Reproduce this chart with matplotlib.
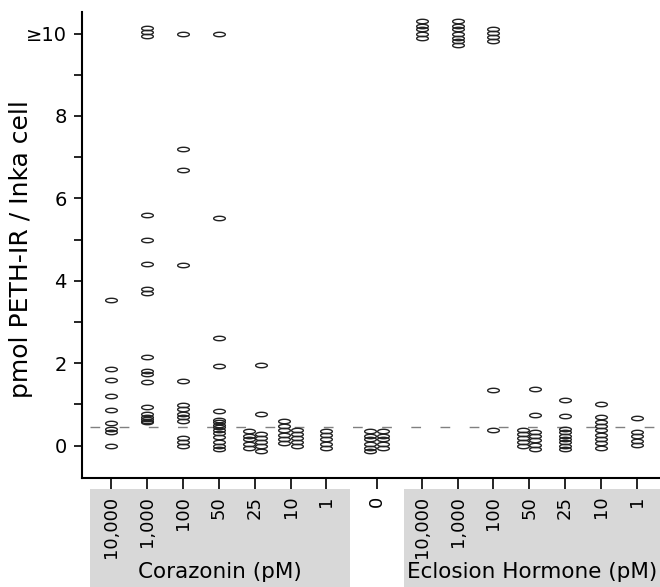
# =========================
# 1. Import Libraries
# =========================
import numpy as np
import matplotlib
matplotlib.use("Agg")
import matplotlib.pyplot as plt
from matplotlib.path import Path
from matplotlib.patches import Rectangle
from matplotlib.transforms import blended_transform_factory

# =========================
# 2. Data (pmol PETH-IR per Inka cell)
# =========================
conc_labels = ['10,000', '1,000', '100', '50', '25', '10', '1']
ctrl_label = '0'

# Corazonin
cor_10000 = [3.54, 1.87, 1.60, 1.21, 0.87, 0.55, 0.40, 0.33, 0.0]
cor_1000 = [10.14, 10.05, 9.95, 5.60, 5.00, 4.41, 3.80, 3.70, 2.15, 1.82, 1.73,
            1.54, 0.95, 0.76, 0.70, 0.65, 0.60, 0.57]
cor_100 = [10.0, 7.21, 6.69, 4.38, 1.56, 0.98, 0.88, 0.78, 0.69, 0.60, 0.19, 0.08, -0.02]
cor_50 = [9.98, 5.53, 2.62, 1.93, 0.83, 0.63, 0.57, 0.51, 0.45, 0.38, 0.30, 0.20,
          0.10, 0.0, -0.08]
cor_25_a = [0.35, 0.24, 0.15, 0.05, -0.06]
cor_25_b = [1.95, 0.78, 0.29, 0.19, 0.09, -0.02, -0.12]
cor_10_a = [0.59, 0.47, 0.37, 0.27, 0.16, 0.07]
cor_10_b = [0.39, 0.29, 0.19, 0.08, -0.02]
cor_1 = [0.35, 0.25, 0.15, 0.05, -0.05]

# no peptide
ctrl_a = [0.35, 0.24, 0.15, 0.04, -0.06, -0.14]
ctrl_b = [0.35, 0.24, 0.15, 0.04, -0.06]

# Eclosion hormone
eh_10000 = [10.30, 10.19, 10.10, 10.0, 9.90]
eh_1000 = [10.30, 10.19, 10.10, 10.0, 9.90, 9.81, 9.72]
eh_100 = [10.11, 10.02, 9.92, 9.81, 1.34, 0.37]
eh_50_a = [0.39, 0.29, 0.19, 0.08, -0.02]
eh_50_b = [1.38, 0.74, 0.32, 0.23, 0.13, 0.02, -0.07]
eh_25 = [1.12, 0.71, 0.40, 0.32, 0.24, 0.16, 0.08, 0.0, -0.08]
eh_10 = [1.0, 0.69, 0.58, 0.48, 0.37, 0.27, 0.16, 0.06, -0.05]
eh_1 = [0.67, 0.32, 0.23, 0.12, 0.02]

threshold = 0.46

# =========================
# 3. Layout
# =========================
cor_pos = np.arange(1, 8)
ctrl_pos = 8.4
eh_pos = 9.66 + np.arange(7)
sub = 0.17  # half spacing for split columns

# each column: (x, [single], [left], [right])
columns = [
    (cor_pos[0], cor_10000, [], []),
    (cor_pos[1], cor_1000, [], []),
    (cor_pos[2], cor_100, [], []),
    (cor_pos[3], cor_50, [], []),
    (cor_pos[4], [], cor_25_a, cor_25_b),
    (cor_pos[5], [], cor_10_a, cor_10_b),
    (cor_pos[6], cor_1, [], []),
    (ctrl_pos, [], ctrl_a, ctrl_b),
    (eh_pos[0], eh_10000, [], []),
    (eh_pos[1], eh_1000, [], []),
    (eh_pos[2], eh_100, [], []),
    (eh_pos[3], [], eh_50_a, eh_50_b),
    (eh_pos[4], eh_25, [], []),
    (eh_pos[5], eh_10, [], []),
    (eh_pos[6], eh_1, [], []),
]

# flat ellipse marker
t = np.linspace(0, 2 * np.pi, 60)
ellipse = Path(np.column_stack([np.cos(t), 0.38 * np.sin(t)]), closed=True)

plt.rcParams['font.family'] = ['DejaVu Sans']

fig = plt.figure(figsize=(6.6, 5.87), dpi=100)
ax = fig.add_axes([0.124, 0.186, 0.876, 0.794])

xmin, xmax = 0.176, 16.31
ax.set_xlim(xmin, xmax)
ax.set_ylim(-0.78, 10.53)

# =========================
# 4. Points
# =========================
for x, single, left, right in columns:
    for vals, dx in ((single, 0.0), (left, -sub), (right, sub)):
        if len(vals) == 0:
            continue
        ax.plot(np.full(len(vals), x + dx), vals, linestyle='none',
                marker=ellipse, markersize=8.4, markerfacecolor='none',
                markeredgecolor='#222222', markeredgewidth=1.0, clip_on=False)

ax.plot([0.40, xmax], [threshold, threshold], color='#808080', lw=1.0,
        dashes=(7, 14), zorder=1)

# =========================
# 5. Axes styling
# =========================
for s in ['top', 'right']:
    ax.spines[s].set_visible(False)
for s in ['left', 'bottom']:
    ax.spines[s].set_linewidth(1.5)

ax.set_yticks([0, 2, 4, 6, 8, 10])
ax.set_yticklabels(['0', '2', '4', '6', '8', '\u226510'])
ax.set_yticks([1, 3, 5, 7, 9], minor=True)
ax.tick_params(axis='y', which='both', length=6, width=1.2, labelsize=14, pad=5)

xt = list(cor_pos) + [ctrl_pos] + list(eh_pos)
ax.set_xticks(xt)
ax.set_xticklabels(conc_labels + [ctrl_label] + conc_labels, rotation=90,
                   va='top')
ax.tick_params(axis='x', length=8, width=1.2, labelsize=13, pad=5)

ax.set_ylabel('pmol PETH-IR / Inka cell', fontsize=18)
ax.yaxis.set_label_coords(-0.085, 0.49)

# grey group boxes under the tick labels
trans = blended_transform_factory(ax.transData, fig.transFigure)
box_top = 0.167
for x0, x1, name in ((cor_pos[0] - 0.6, cor_pos[-1] + 0.66, 'Corazonin (pM)'),
                     (eh_pos[0] - 0.5, xmax, 'Eclosion Hormone (pM)')):
    fig.add_artist(Rectangle((x0, 0), x1 - x0, box_top, transform=trans,
                             facecolor='#d8d8d8', edgecolor='none', zorder=-1))
    fig.text((x0 + x1) / 2, 0.026, name, transform=trans, ha='center',
             va='center', fontsize=15.5)

fig.savefig('out.png', dpi=100)
